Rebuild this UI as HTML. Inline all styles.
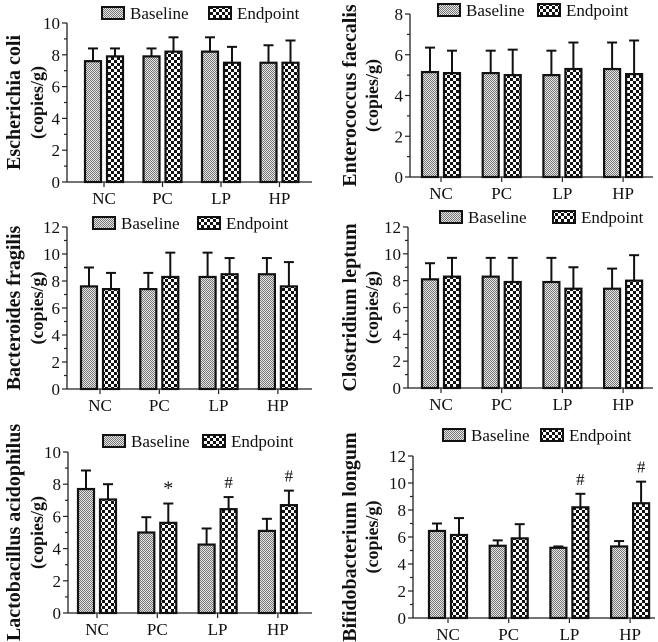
<!DOCTYPE html>
<html><head><meta charset="utf-8">
<style>
html,body{margin:0;padding:0;background:#fff;}
svg{display:block;}
text{font-family:"Liberation Serif","Noto Serif CJK SC",serif;fill:#111;}
</style></head>
<body>
<svg id="chart" width="658" height="642" viewBox="0 0 658 642" xmlns="http://www.w3.org/2000/svg">
<defs>
<pattern id="patB" width="2" height="2" patternUnits="userSpaceOnUse">
<rect width="2" height="2" fill="#e6e6e6"/><rect width="1" height="1" fill="#777"/><rect x="1" y="1" width="1" height="1" fill="#777"/>
</pattern>
<pattern id="patE" width="6" height="6" patternUnits="userSpaceOnUse">
<rect width="6" height="6" fill="#fff"/><rect width="3" height="3" fill="#111"/><rect x="3" y="3" width="3" height="3" fill="#111"/>
</pattern>
</defs>
<g id="root"></g>
</svg>
<script>
const categories = ["NC","PC","LP","HP"];
const ecoliBase = [7.6,7.9,8.2,7.5];
const ecoliBaseSD = [0.8,0.5,0.9,1.1];
const ecoliEnd = [7.9,8.2,7.5,7.5];
const ecoliEndSD = [0.5,0.9,1.0,1.4];
const enteroBase = [5.15,5.1,5.0,5.3];
const enteroBaseSD = [1.2,1.1,1.2,1.3];
const enteroEnd = [5.1,5.0,5.3,5.05];
const enteroEndSD = [1.1,1.25,1.3,1.65];
const bactBase = [7.6,7.4,8.3,8.5];
const bactBaseSD = [1.4,1.2,1.8,1.2];
const bactEnd = [7.4,8.3,8.5,7.6];
const bactEndSD = [1.2,1.8,1.2,1.8];
const clostBase = [8.1,8.3,7.9,7.4];
const clostBaseSD = [1.2,1.4,1.8,1.5];
const clostEnd = [8.3,7.9,7.4,8.0];
const clostEndSD = [1.4,1.8,1.6,1.9];
const lactoBase = [7.7,5.0,4.25,5.1];
const lactoBaseSD = [1.15,0.95,1.0,0.75];
const lactoEnd = [7.05,5.6,6.45,6.7];
const lactoEndSD = [0.95,1.2,0.75,0.9];
const lactoMarks = ["","*","#","#"];
const bifBase = [6.45,5.35,5.2,5.3];
const bifBaseSD = [0.55,0.4,0.1,0.4];
const bifEnd = [6.15,5.9,8.2,8.5];
const bifEndSD = [1.25,1.05,1.0,1.6];
const bifMarks = ["","","#","#"];

const NS="http://www.w3.org/2000/svg";
const root=document.getElementById('root');
function mk(tag,attrs,parent){const e=document.createElementNS(NS,tag);for(const k in attrs)e.setAttribute(k,attrs[k]);(parent||root).appendChild(e);return e;}

const panels=[
 {id:'ecoli',t1:'Escherichia coli',ax:67,top:23,bot:182,max:10,c0:104,sp:58.5,end:312,tx1:14,tx2:37,lb:102,le:209,ly:13,base:ecoliBase,bsd:ecoliBaseSD,endv:ecoliEnd,esd:ecoliEndSD,marks:null},
 {id:'entero',t1:'Enterococcus faecalis',ax:410,top:14,bot:177,max:8,c0:441,sp:60.7,end:653,tx1:350,tx2:372,lb:438,le:538,ly:10,base:enteroBase,bsd:enteroBaseSD,endv:enteroEnd,esd:enteroEndSD,marks:null},
 {id:'bacteroides',t1:'Bacteroides fragilis',ax:67,top:227,bot:389,max:12,c0:100,sp:59.3,end:312,tx1:14,tx2:37,lb:93,le:198,ly:223,base:bactBase,bsd:bactBaseSD,endv:bactEnd,esd:bactEndSD,marks:null},
 {id:'clostridium',t1:'Clostridium leptum',ax:408,top:227,bot:388,max:12,c0:441,sp:60.7,end:653,tx1:350,tx2:372,lb:440,le:553,ly:217,base:clostBase,bsd:clostBaseSD,endv:clostEnd,esd:clostEndSD,marks:null},
 {id:'lactobacillus',t1:'Lactobacillus acidophilus',ax:68,top:452,bot:613,max:10,c0:97,sp:60.3,end:312,tx1:14,tx2:37,lb:103,le:203,ly:441,base:lactoBase,bsd:lactoBaseSD,endv:lactoEnd,esd:lactoEndSD,marks:lactoMarks},
 {id:'bifidobacterium',t1:'Bifidobacterium longum',ax:413,top:456,bot:618,max:12,c0:448,sp:60.7,end:655,tx1:350,tx2:372,lb:443,le:541,ly:435,base:bifBase,bsd:bifBaseSD,endv:bifEnd,esd:bifEndSD,marks:bifMarks}
];
const FF='"Liberation Serif","Noto Serif CJK SC",serif';

panels.forEach(p=>{
 const g=mk('g',{});
 
 
 const y=v=>p.bot-(v/p.max)*(p.bot-p.top);
 const cy=(p.top+p.bot)/2;
 const t1=mk('text',{x:p.tx1,y:cy,'font-size':20,'font-weight':'bold','font-family':FF,'text-anchor':'middle','dominant-baseline':'central',transform:`rotate(-90 ${p.tx1} ${cy})`},g);
 t1.textContent=p.t1;
 
 
 const t2=mk('text',{x:p.tx2,y:cy,'font-size':18,'font-weight':'bold','font-family':FF,'text-anchor':'middle','dominant-baseline':'central',transform:`rotate(-90 ${p.tx2} ${cy})`},g);
 t2.textContent='(copies/g)';
 
 
 mk('line',{x1:p.ax,y1:p.top,x2:p.ax,y2:p.bot,stroke:'#222','stroke-width':1.3},g);
 mk('line',{x1:p.ax,y1:p.bot,x2:p.end,y2:p.bot,stroke:'#222','stroke-width':1.3},g);
 for(let v=0;v<=p.max;v++){
  const major=v%2===0;
  mk('line',{x1:p.ax-(major?5:3),y1:y(v),x2:p.ax,y2:y(v),stroke:'#222','stroke-width':1.2},g);
  if(major){const tl=mk('text',{x:p.ax-7,y:y(v)+6,'font-size':17,'font-family':FF,'text-anchor':'end'},g);tl.textContent=v;
   
   }
 }
 const bw=16,gap=3;
 categories.forEach((c,i)=>{
  const cx=p.c0+p.sp*i;
  mk('line',{x1:cx,y1:p.bot,x2:cx,y2:p.bot+5,stroke:'#222','stroke-width':1.2},g);
  const xl=mk('text',{x:cx,y:p.bot+22,'font-size':17,'font-family':FF,'text-anchor':'middle'},g);xl.textContent=c;
  
  
  [[p.base,p.bsd,'url(#patB)',cx-gap-bw,'baseline'],[p.endv,p.esd,'url(#patE)',cx+gap,'endpoint']].forEach(([vals,sds,fill,x0,nm])=>{
   const v=vals[i],s=sds[i],mx=x0+bw/2;
   mk('line',{x1:mx,y1:y(v),x2:mx,y2:y(v+s),stroke:'#111','stroke-width':2},g);
   mk('line',{x1:mx-5,y1:y(v+s),x2:mx+5,y2:y(v+s),stroke:'#111','stroke-width':2},g);
   const r=mk('rect',{x:x0,y:y(v),width:bw,height:p.bot-y(v),fill:fill,stroke:'#111','stroke-width':2.2},g);
   
   
  });
  if(p.marks&&p.marks[i]){
   const mx=cx+gap+bw/2;
   const m=mk('text',{x:mx,y:y(p.endv[i]+p.esd[i])-9,'font-size':p.marks[i]==='*'?20:17,'font-family':FF,'text-anchor':'middle'},g);
   m.textContent=p.marks[i];
   
   
  }
 });
 [[p.lb,'url(#patB)','Baseline'],[p.le,'url(#patE)','Endpoint']].forEach(([lx,fill,label])=>{
  const lg=mk('g',{},g);
  
  
  mk('rect',{x:lx,y:p.ly-6,width:22,height:12,fill:fill,stroke:'#111','stroke-width':2},lg);
  const lt=mk('text',{x:lx+28,y:p.ly+6,'font-size':17,'font-family':FF},lg);lt.textContent=label;
 });
});
</script>
</body></html>
